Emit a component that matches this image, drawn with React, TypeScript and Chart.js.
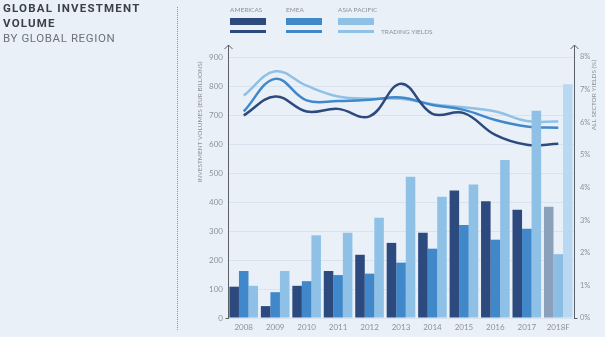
import React, { useEffect, useRef } from 'react';
import { Chart, registerables } from 'chart.js';

Chart.register(...registerables);

const categories = ['2008', '2009', '2010', '2011', '2012', '2013', '2014', '2015', '2016', '2017', '2018F'];
const americasVolume = [108, 41, 111, 162, 218, 259, 294, 440, 403, 373, 384];
const emeaVolume = [162, 89, 127, 148, 153, 191, 239, 321, 270, 308, 220];
const asiaPacificVolume = [111, 162, 285, 294, 346, 487, 418, 460, 545, 715, 806];
const americasYield = [6.21, 6.79, 6.33, 6.41, 6.18, 7.18, 6.26, 6.28, 5.61, 5.31, 5.34];
const emeaYield = [6.33, 7.33, 6.67, 6.65, 6.69, 6.76, 6.53, 6.38, 6.07, 5.87, 5.83];
const asiaPacificYield = [6.82, 7.56, 7.12, 6.79, 6.72, 6.72, 6.55, 6.46, 6.33, 6.04, 6.02];
const volumeMax = 900;
const volumeStep = 100;
const yieldMax = 8;
const yieldStep = 1;

const C_AM = '#2c4a7e';
const C_EM = '#4088c9';
const C_AP = '#8fc1e7';
const C_AM_F = '#8aa0bb';
const C_EM_F = '#8cbde3';
const C_AP_F = '#b9d8f1';
const BG = '#e9f0f8';
const TXT = '#8d929b';
const FONT = 'Lato, "Open Sans", sans-serif';

const colorsFor = (base: string, forecast: string) =>
  categories.map((c) => (c.endsWith('F') ? forecast : base));

const axisPlugin = {
  id: 'axisDeco',
  afterDraw(chart: any) {
    const { ctx, chartArea } = chart;
    const top = chartArea.top - 12;
    const bottom = chartArea.bottom + 1;
    ctx.save();
    ctx.strokeStyle = '#5a5f68';
    ctx.lineWidth = 1;
    [chartArea.left, chartArea.right].forEach((x: number, i: number) => {
      const xx = Math.round(x) + 0.5;
      ctx.beginPath();
      ctx.moveTo(xx, top);
      ctx.lineTo(xx, bottom);
      ctx.stroke();
      ctx.beginPath();
      ctx.moveTo(xx - 4, top + 4);
      ctx.lineTo(xx, top);
      ctx.lineTo(xx + 4, top + 4);
      ctx.stroke();
      ctx.beginPath();
      if (i === 0) {
        ctx.moveTo(xx - 3, bottom - 0.5);
        ctx.lineTo(xx, bottom - 0.5);
      } else {
        ctx.moveTo(xx, bottom - 0.5);
        ctx.lineTo(xx + 3, bottom - 0.5);
      }
      ctx.stroke();
    });
    ctx.fillStyle = TXT;
    ctx.font = '6.5px ' + FONT;
    ctx.textAlign = 'center';
    ctx.textBaseline = 'middle';
    ctx.save();
    ctx.translate(200, 122);
    ctx.rotate(-Math.PI / 2);
    ctx.fillText('INVESTMENT VOLUMES (EUR BILLIONS)', 0, 0);
    ctx.restore();
    ctx.save();
    ctx.translate(594, 95);
    ctx.rotate(-Math.PI / 2);
    ctx.fillText('ALL SECTOR YIELDS (%)', 0, 0);
    ctx.restore();
    ctx.restore();
  },
};

function ChartCanvas() {
  const ref = useRef<HTMLCanvasElement | null>(null);
  useEffect(() => {
    if (!ref.current) return;
    const chart = new Chart(ref.current, {
      type: 'bar',
      data: {
        labels: categories,
        datasets: [
          { type: 'bar', label: 'AMERICAS', data: americasVolume, backgroundColor: colorsFor(C_AM, C_AM_F), yAxisID: 'y', order: 1, barPercentage: 1, categoryPercentage: 0.91, borderWidth: 0 },
          { type: 'bar', label: 'EMEA', data: emeaVolume, backgroundColor: colorsFor(C_EM, C_EM_F), yAxisID: 'y', order: 1, barPercentage: 1, categoryPercentage: 0.91, borderWidth: 0 },
          { type: 'bar', label: 'ASIA PACIFIC', data: asiaPacificVolume, backgroundColor: colorsFor(C_AP, C_AP_F), yAxisID: 'y', order: 1, barPercentage: 1, categoryPercentage: 0.91, borderWidth: 0 },
          { type: 'line', label: 'AMERICAS YIELD', data: americasYield, borderColor: C_AM, borderWidth: 2.5, pointRadius: 0, tension: 0.4, fill: false, yAxisID: 'y1', order: 2 },
          { type: 'line', label: 'EMEA YIELD', data: emeaYield, borderColor: C_EM, borderWidth: 2.5, pointRadius: 0, tension: 0.4, fill: false, yAxisID: 'y1', order: 3 },
          { type: 'line', label: 'ASIA PACIFIC YIELD', data: asiaPacificYield, borderColor: C_AP, borderWidth: 2.5, pointRadius: 0, tension: 0.4, fill: false, yAxisID: 'y1', order: 4 },
        ] as any,
      },
      options: {
        animation: false,
        responsive: false,
        maintainAspectRatio: false,
        layout: { padding: { left: 195, top: 57, right: 0, bottom: 0 } },
        plugins: { legend: { display: false }, tooltip: { enabled: false }, title: { display: false } },
        scales: {
          x: {
            offset: true,
            grid: { display: false, drawTicks: false },
            border: { display: false },
            ticks: { color: TXT, font: { family: FONT, size: 8 }, padding: 5, maxRotation: 0, autoSkip: false },
            afterFit: (s: any) => { s.height = 19; },
          },
          y: {
            position: 'left',
            min: 0,
            max: volumeMax,
            ticks: { stepSize: volumeStep, color: TXT, font: { family: FONT, size: 8 }, padding: 5 },
            grid: { color: '#d9e3ef', lineWidth: 1, drawTicks: false },
            border: { display: false },
            afterFit: (s: any) => { s.width = 33; },
          },
          y1: {
            position: 'right',
            min: 0,
            max: yieldMax,
            ticks: { stepSize: yieldStep, color: TXT, font: { family: FONT, size: 7.5 }, padding: 6, callback: (v: any) => v + '%' },
            grid: { display: false, drawTicks: false },
            border: { display: false },
            afterFit: (s: any) => { s.width = 31; },
          },
        },
      } as any,
      plugins: [axisPlugin],
    });
    return () => chart.destroy();
  }, []);
  return <canvas ref={ref} width={605} height={337} style={{ position: 'absolute', left: 0, top: 0, width: 605, height: 337 }} />;
}

const legendText: React.CSSProperties = { position: 'absolute', fontFamily: FONT, fontSize: 6.5, color: TXT, lineHeight: '8px', whiteSpace: 'nowrap' };

export default function App() {
  const legend = [
    { name: 'AMERICAS', color: C_AM, x: 230 },
    { name: 'EMEA', color: C_EM, x: 286 },
    { name: 'ASIA PACIFIC', color: C_AP, x: 338 },
  ];
  return (
    <div style={{ position: 'fixed', left: 0, top: 0, width: 605, height: 337, background: BG, overflow: 'hidden' }}>
      <ChartCanvas />
      <div style={{ position: 'absolute', left: 3, top: 1, fontFamily: 'Roboto, sans-serif', fontWeight: 700, fontSize: 11.5, letterSpacing: 1.2, lineHeight: '15px', color: '#3b404a' }}>
        GLOBAL INVESTMENT<br />VOLUME
      </div>
      <div style={{ position: 'absolute', left: 3, top: 31, fontFamily: 'Roboto, sans-serif', fontWeight: 400, fontSize: 11.5, letterSpacing: 0.6, lineHeight: '14px', color: '#6c717b' }}>
        BY GLOBAL REGION
      </div>
      <div style={{ position: 'absolute', left: 177, top: 7, height: 323, borderLeft: '1.5px dotted #7f95b6' }} />
      {legend.map((l) => (
        <React.Fragment key={l.name}>
          <div style={{ ...legendText, left: l.x, top: 6 }}>{l.name}</div>
          <div style={{ position: 'absolute', left: l.x, top: 18, width: 36, height: 6.5, background: l.color }} />
          <div style={{ position: 'absolute', left: l.x, top: 30, width: 36, height: 2.5, background: l.color }} />
        </React.Fragment>
      ))}
      <div style={{ ...legendText, left: 381, top: 28 }}>TRADING YIELDS</div>
    </div>
  );
}
